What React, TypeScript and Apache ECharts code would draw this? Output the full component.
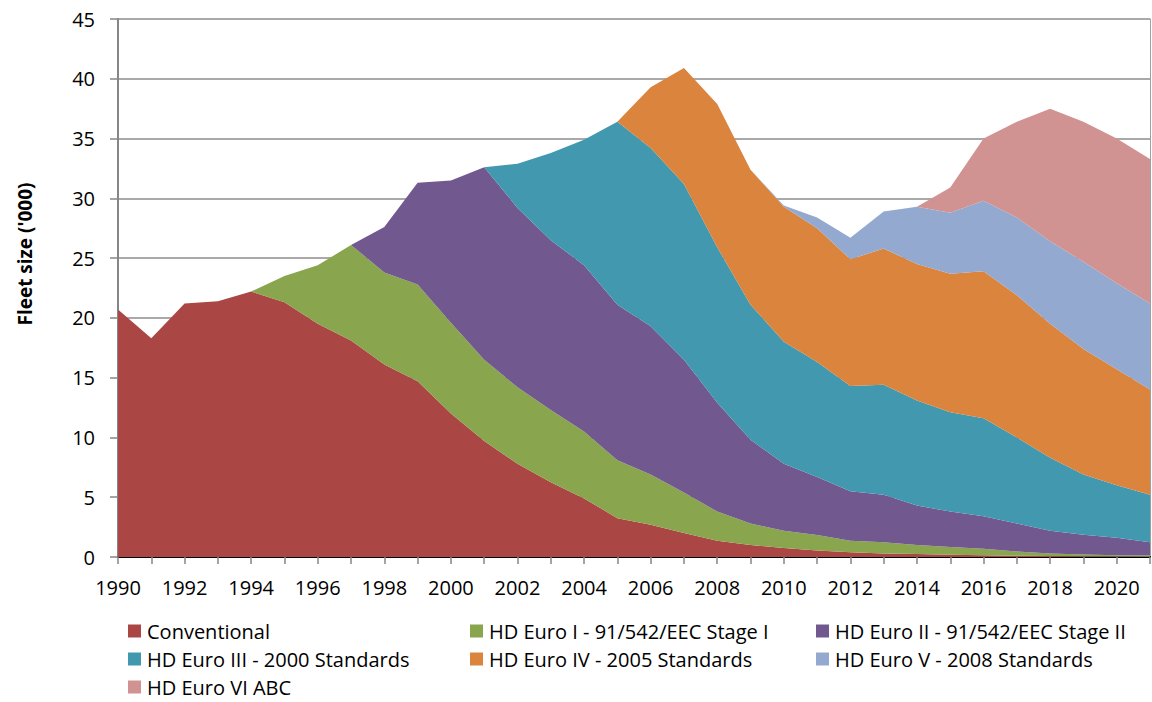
import React, { useEffect, useRef } from "react";
import * as echarts from "echarts";

const years = [
  "1990","1991","1992","1993","1994","1995","1996","1997","1998","1999",
  "2000","2001","2002","2003","2004","2005","2006","2007","2008","2009",
  "2010","2011","2012","2013","2014","2015","2016","2017","2018","2019",
  "2020","2021",
];

const conventional = [20.7,18.3,21.2,21.4,22.2,21.3,19.5,18.1,16.1,14.7,12.0,9.7,7.8,6.25,4.9,3.25,2.7,2.0,1.36,1.0,0.75,0.55,0.4,0.3,0.25,0.18,0.15,0.1,0.08,0.05,0.04,0.03];
const euroI = [0,0,0,0,0,2.2,4.9,8.0,7.7,8.1,7.6,6.8,6.4,6.05,5.6,4.85,4.2,3.4,2.44,1.8,1.45,1.3,0.96,0.94,0.75,0.66,0.55,0.36,0.22,0.15,0.11,0.09];
const euroII = [0,0,0,0,0,0,0,0,3.8,8.5,11.9,16.1,15.0,14.2,13.9,13.0,12.4,11.1,9.1,7.0,5.6,4.85,4.14,3.96,3.3,2.96,2.7,2.34,1.9,1.66,1.45,1.12];
const euroIII = [0,0,0,0,0,0,0,0,0,0,0,0,3.7,7.3,10.5,15.3,14.9,14.7,13.0,11.3,10.2,9.6,8.8,9.2,8.8,8.3,8.2,7.2,6.1,5.04,4.4,3.96];
const euroIV = [0,0,0,0,0,0,0,0,0,0,0,0,0,0,0,0,5.1,9.7,12.0,11.3,11.3,11.2,10.6,11.4,11.4,11.6,12.3,11.9,11.2,10.5,9.7,8.8];
const euroV = [0,0,0,0,0,0,0,0,0,0,0,0,0,0,0,0,0,0,0,0,0.1,0.9,1.8,3.1,4.8,5.1,5.9,6.5,6.9,7.3,7.2,7.2];
const euroVI = [0,0,0,0,0,0,0,0,0,0,0,0,0,0,0,0,0,0,0,0,0,0,0,0,0,2.1,5.2,8.0,11.1,11.7,12.1,12.1];

const seriesNames = [
  "Conventional",
  "HD Euro I - 91/542/EEC Stage I",
  "HD Euro II - 91/542/EEC Stage II",
  "HD Euro III - 2000 Standards",
  "HD Euro IV - 2005 Standards",
  "HD Euro V - 2008 Standards",
  "HD Euro VI ABC",
];
const seriesData = [conventional, euroI, euroII, euroIII, euroIV, euroV, euroVI];
const colors = ["#AA4643", "#89A54E", "#71588F", "#4198AF", "#DB843D", "#93A9CF", "#D19392"];

const FONT = "'Open Sans', Lato, sans-serif";

export default function App() {
  const ref = useRef<HTMLDivElement>(null);
  useEffect(() => {
    if (!ref.current) return;
    const chart = echarts.init(ref.current, null, { renderer: "svg" });
    const legendPos = [
      [128, 621], [470, 621], [816, 621],
      [128, 649], [470, 649], [816, 649],
      [128, 677],
    ];
    chart.setOption({
      animation: false,
      color: colors,
      textStyle: { fontFamily: FONT },
      grid: { left: 118, right: 2, top: 19, bottom: 145, containLabel: false },
      legend: seriesNames.map((n, i) => ({
        data: [n],
        left: legendPos[i][0],
        top: legendPos[i][1],
        padding: 0,
        icon: "rect",
        itemWidth: 13,
        itemHeight: 13,
        itemGap: 0,
        selectedMode: false,
        textStyle: { fontFamily: FONT, fontSize: 20, color: "#000", lineHeight: 20, padding: [0, 0, 0, 1] },
      })),
      xAxis: [
        {
          type: "category",
          data: years,
          boundaryGap: false,
          axisLine: { show: true, lineStyle: { color: "#868686", width: 1.5 } },
          axisTick: { show: true, interval: 0, length: 7, lineStyle: { color: "#868686", width: 1.5 } },
          axisLabel: { interval: 1, margin: 20, fontSize: 20, color: "#000", fontFamily: FONT },
          splitLine: { show: false },
        },
        {
          type: "category",
          data: years,
          position: "top",
          boundaryGap: false,
          axisLine: { show: true, lineStyle: { color: "#000", width: 2 } },
          axisTick: { show: false },
          axisLabel: { show: false },
        },
      ],
      yAxis: [
        {
          type: "value",
          min: 0,
          max: 45,
          interval: 5,
          axisLine: { show: true, lineStyle: { color: "#868686", width: 2 } },
          axisTick: { show: true, length: 8, inside: false, lineStyle: { color: "#868686", width: 1.5 } },
          axisLabel: { margin: 23, fontSize: 20, color: "#000", fontFamily: FONT },
          splitLine: { show: true, lineStyle: { color: "#8c8c8c", width: 1.5 } },
        },
        {
          type: "value",
          min: 0,
          max: 45,
          interval: 5,
          position: "right",
          axisLine: { show: true, lineStyle: { color: "#a0a0a0", width: 1 } },
          axisTick: { show: false },
          axisLabel: { show: false },
          splitLine: { show: false },
        },
      ],
      graphic: [
        {
          type: "text",
          x: 25,
          y: 254,
          rotation: Math.PI / 2,
          style: {
            text: "Fleet size ('000)",
            fontFamily: FONT,
            fontSize: 19,
            fontWeight: "bold",
            fill: "#000",
            align: "center",
            verticalAlign: "middle",
          },
        },
      ],
      series: seriesNames.map((n, i) => ({
        name: n,
        type: "line",
        stack: "total",
        data: seriesData[i],
        symbol: "none",
        lineStyle: { width: 0 },
        areaStyle: { color: colors[i], opacity: 1 },
        itemStyle: { color: colors[i] },
        emphasis: { disabled: true },
      })),
    });
    return () => chart.dispose();
  }, []);
  return <div ref={ref} style={{ width: 1152, height: 702, position: "absolute", left: 0, top: 0 }} />;
}
